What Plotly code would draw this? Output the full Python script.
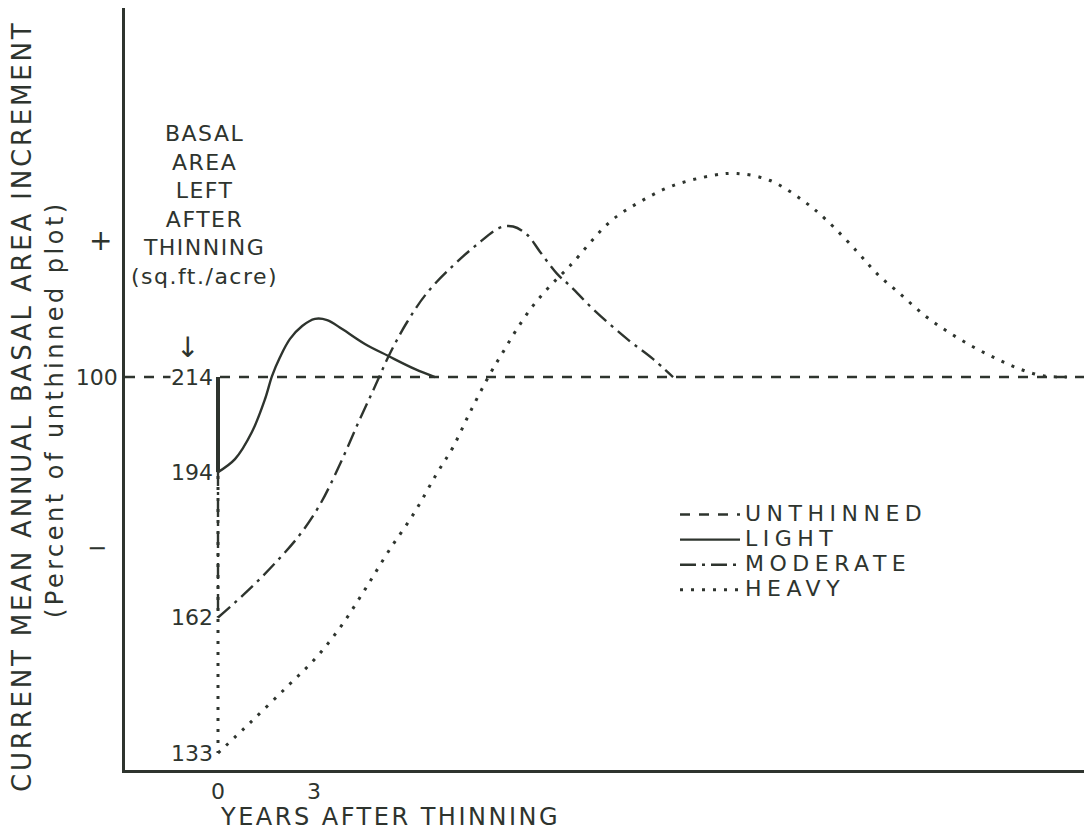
import plotly.graph_objects as go

# ---------------- data ----------------
# x: years after thinning, y: current mean annual basal area increment (% of unthinned)
X_RANGE = [-2.906, 27.06]
Y_RANGE = [0, 193.9]

UNTHINNED_X = [-2.906, 27.06]
UNTHINNED_Y = [100, 100]

LIGHT_X = [0, 0.53, 1.06, 1.47, 1.69, 1.94, 2.25, 2.63, 3.03, 3.41, 3.88, 4.59, 5.31, 6.16, 6.78]
LIGHT_Y = [75.8, 79.1, 86.0, 94.4, 100.3, 105.1, 109.7, 113.0, 114.8, 114.5, 112.2, 108.4, 105.4, 102.0, 100]

MODERATE_X = [0, 0.94, 1.78, 2.56, 3.19, 3.81, 4.38, 4.91, 5.38, 5.91, 6.53, 7.34, 8.09,
              8.81, 9.22, 9.66, 10.06, 10.59, 11.0, 11.72, 12.78, 13.59, 14.22]
MODERATE_Y = [38.8, 45.7, 52.6, 59.9, 67.6, 77.8, 88.3, 97.7, 106.1, 114.0, 121.4, 128.3, 133.7,
              138.0, 138.3, 136.2, 131.9, 126.3, 123.2, 117.3, 109.7, 104.6, 100]

HEAVY_X = [0, 1.0, 2.16, 3.09, 3.88, 4.59, 5.31, 6.16, 6.84, 7.34, 7.88, 8.5, 8.91, 9.34,
           9.84, 10.38, 11.0, 12.25, 13.19, 14.22, 15.47, 16.22, 17.25, 18.28, 19.03, 19.97,
           20.59, 21.31, 22.09, 22.81, 23.59, 24.34, 25.06, 25.78, 26.53]
HEAVY_Y = [4.3, 12.0, 21.2, 28.8, 37.0, 45.9, 55.4, 65.8, 75.5, 82.1, 91.1, 100.8, 106.4, 112.2,
           118.1, 123.2, 128.3, 139.5, 144.6, 148.7, 151.3, 151.8, 150.0, 144.9, 139.8, 131.9,
           126.3, 121.2, 115.6, 111.5, 107.7, 104.6, 102.0, 100.3, 100]

SERIES_NAMES = ["UNTHINNED", "LIGHT", "MODERATE", "HEAVY"]
BASAL_LEFT = ["214", "194", "162", "133"]     # sq.ft./acre left after thinning
X_TICKS = [0, 3]
X_TICK_TEXT = ["0", "3"]
Y_TICKS = [100]
Y_TICK_TEXT = ["100"]
PLUS_LEVEL = 134.7
MINUS_LEVEL = 56.6

# ---------------- style ----------------
INK = "#2e342e"
FONT = "DejaVu Sans"
W, H = 1084, 834
ML, MR, MT, MB = 125, 0, 8, 64
PW, PH = W - ML - MR, H - MT - MB


def px(x):
    return (x - ML) / PW


def py(y):
    return (H - MB - y) / PH


def sp(text, s, size=None):
    st = f"letter-spacing:{s}px"
    if size:
        st += f";font-size:{size}px"
    return f'<span style="{st}">{text}</span>'


DASHES = {
    "UNTHINNED": ("10px,9px", 2.4),
    "LIGHT": ("solid", 2.4),
    "MODERATE": ("16px,6px,3px,6px", 2.4),
    "HEAVY": ("3px,8px", 3.0),
}

fig = go.Figure()

series = [
    ("UNTHINNED", UNTHINNED_X, UNTHINNED_Y),
    ("LIGHT", LIGHT_X, LIGHT_Y),
    ("MODERATE", MODERATE_X, MODERATE_Y),
    ("HEAVY", HEAVY_X, HEAVY_Y),
]

for name, xs, ys in series:
    dash, w = DASHES[name]
    fig.add_trace(go.Scatter(
        x=xs, y=ys, mode="lines", name=sp(name, 5.5, 22),
        legendgroup=name,
        line=dict(color=INK, width=w, dash=dash, shape="spline", smoothing=1.0),
        hoverinfo="skip",
    ))
    if name != "UNTHINNED":
        # vertical drop at time of thinning from the unthinned level to the start value
        fig.add_trace(go.Scatter(
            x=[xs[0], xs[0]], y=[UNTHINNED_Y[0], ys[0]], mode="lines",
            legendgroup=name, showlegend=False,
            line=dict(color=INK, width=w + (1.6 if name == "LIGHT" else 0), dash=dash),
            hoverinfo="skip",
        ))

annotations = []

# basal area labels at the start of each curve
for label, yv in zip(BASAL_LEFT, [UNTHINNED_Y[0], LIGHT_Y[0], MODERATE_Y[0], HEAVY_Y[0]]):
    annotations.append(dict(
        x=0, y=yv, xref="x", yref="y", text=label, showarrow=False,
        xanchor="right", yanchor="middle", xshift=-4,
        font=dict(family=FONT, size=22, color=INK), bgcolor="white", borderpad=0,
    ))

# + and - marks on the y axis
annotations.append(dict(x=px(100), y=PLUS_LEVEL, xref="paper", yref="y", text="+",
                        xanchor="center", yanchor="middle",
                        showarrow=False, font=dict(family=FONT, size=28, color=INK)))
annotations.append(dict(x=px(97), y=MINUS_LEVEL, xref="paper", yref="y", text="\u2212",
                        xanchor="center", yanchor="middle",
                        showarrow=False, font=dict(family=FONT, size=24, color=INK)))

# y-axis title (two lines)
annotations.append(dict(
    x=px(22), y=py(407), xref="paper", yref="paper", textangle=-90, showarrow=False,
    xanchor="center", yanchor="middle",
    text=sp("CURRENT MEAN ANNUAL BASAL AREA INCREMENT", 2.8),
    font=dict(family=FONT, size=26, color=INK),
))
annotations.append(dict(
    x=px(55), y=py(409), xref="paper", yref="paper", textangle=-90, showarrow=False,
    xanchor="center", yanchor="middle",
    text=sp("(Percent of unthinned plot)", 3.5),
    font=dict(family=FONT, size=24, color=INK),
))

# x-axis title
annotations.append(dict(
    x=px(390), y=py(817), xref="paper", yref="paper", showarrow=False,
    xanchor="center", yanchor="middle",
    text=sp("YEARS AFTER THINNING", 2.5),
    font=dict(family=FONT, size=24, color=INK),
))

# basal area caption block
annotations.append(dict(
    x=px(204), y=py(205), xref="paper", yref="paper", showarrow=False, align="center",
    xanchor="center", yanchor="middle",
    text=sp("BASAL<br>AREA<br>LEFT<br>AFTER<br>THINNING<br>(sq.ft./acre)", 1.5),
    font=dict(family=FONT, size=22, color=INK),
))
annotations.append(dict(
    x=px(187), y=py(347), xref="paper", yref="paper", showarrow=False, text="\u2193",
    xanchor="center", yanchor="middle",
    font=dict(family=FONT, size=28, color=INK),
))

fig.update_layout(
    width=W, height=H,
    margin=dict(l=ML, r=MR, t=MT, b=MB),
    paper_bgcolor="white", plot_bgcolor="white",
    showlegend=True,
    legend=dict(
        x=px(675), y=py(497), xanchor="left", yanchor="top",
        font=dict(family=FONT, size=17, color=INK),
        bgcolor="rgba(0,0,0,0)", itemwidth=60, tracegroupgap=0,
        traceorder="normal",
    ),
    xaxis=dict(
        range=X_RANGE, showline=True, linecolor=INK, linewidth=2.5,
        showgrid=False, zeroline=False, tickvals=X_TICKS, ticktext=X_TICK_TEXT,
        ticks="", tickfont=dict(family=FONT, size=22, color=INK),
    ),
    yaxis=dict(
        range=Y_RANGE, showline=True, linecolor=INK, linewidth=2.5,
        showgrid=False, zeroline=False, tickvals=Y_TICKS, ticktext=Y_TICK_TEXT,
        ticks="", tickfont=dict(family=FONT, size=22, color=INK),
    ),
    annotations=annotations,
)

fig.write_html("out.html")
